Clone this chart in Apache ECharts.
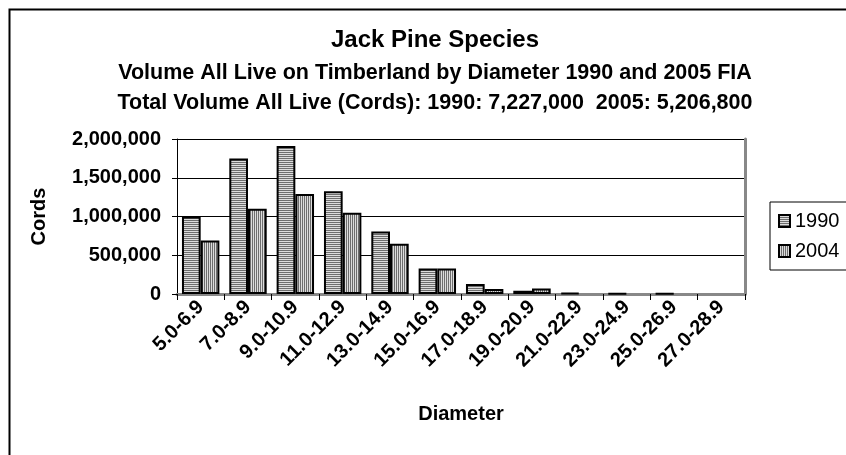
<!DOCTYPE html>
<html>
<head>
<meta charset="utf-8">
<script src="https://cdn.jsdelivr.net/npm/echarts@6/dist/echarts.min.js"></script>
<style>
html, body { margin: 0; padding: 0; background: #fff; }
#chart { width: 846px; height: 455px; }
</style>
</head>
<body>
<div id="chart"></div>
<script>
// diameter classes and volumes (cords)
var categories = ['5.0-6.9', '7.0-8.9', '9.0-10.9', '11.0-12.9', '13.0-14.9', '15.0-16.9',
	'17.0-18.9', '19.0-20.9', '21.0-22.9', '23.0-24.9', '25.0-26.9', '27.0-28.9'];
var vol1990 = [1000000, 1750000, 1910000, 1325000, 805000, 330000, 130000, 42000, 15000, 8000, 7000, null];
var vol2004 = [690000, 1100000, 1290000, 1050000, 650000, 330000, 65000, 72000, null, null, null, null];
var seriesNames = ['1990', '2004'];
var yTicks = [0, 500000, 1000000, 1500000, 2000000];

var FONT = "'Liberation Sans', Arial, sans-serif";

// striped fill like the old excel patterns
function stripes(horizontal) {
	var c = document.createElement('canvas');
	c.width = 2;
	c.height = 2;
	var ctx = c.getContext('2d');
	ctx.fillStyle = '#dcdcdc';
	ctx.fillRect(0, 0, 2, 2);
	ctx.fillStyle = '#6e6e6e';
	if (horizontal) {
		ctx.fillRect(0, 0, 2, 1);
	} else {
		ctx.fillRect(0, 0, 1, 2);
	}
	return { image: c, repeat: 'repeat' };
}

function addCommas(v) {
	return String(v).replace(/\B(?=(\d{3})+(?!\d))/g, ',');
}

var myChart = echarts.init(document.getElementById('chart'), null, { renderer: 'canvas' });

var option = {
	animation: false,
	backgroundColor: '#fff',
	textStyle: { fontFamily: FONT, color: '#000' },
	title: [{
		text: 'Jack Pine Species',
		left: 430, top: 23, textAlign: 'center',
		textStyle: { fontFamily: FONT, fontSize: 24, fontWeight: 'bold', color: '#000' }
	}, {
		text: 'Volume All Live on Timberland by Diameter 1990 and 2005 FIA',
		left: 430, top: 57, textAlign: 'center',
		textStyle: { fontFamily: FONT, fontSize: 21.5, fontWeight: 'bold', color: '#000' }
	}, {
		text: 'Total Volume All Live (Cords): 1990: 7,227,000  2005: 5,206,800',
		left: 430, top: 87, textAlign: 'center',
		textStyle: { fontFamily: FONT, fontSize: 21.5, fontWeight: 'bold', color: '#000' }
	}],
	graphic: [{
		// outer chart border
		type: 'rect', left: 7, top: 7,
		shape: { width: 900, height: 500 },
		style: { fill: null, stroke: '#000', lineWidth: 2 },
		silent: true
	}],
	legend: {
		orient: 'vertical',
		left: 770, top: 202,
		data: seriesNames,
		icon: 'rect',
		itemWidth: 11, itemHeight: 12,
		itemGap: 10,
		padding: [9, 40, 9, 8],
		borderColor: '#000', borderWidth: 1,
		backgroundColor: '#fff',
		textStyle: { fontFamily: FONT, fontSize: 20, color: '#000' }
	},
	grid: { left: 177, right: 101, top: 139, bottom: 161, containLabel: false },
	xAxis: [{
		type: 'category',
		data: categories,
		name: 'Diameter',
		nameLocation: 'middle',
		nameGap: 110,
		nameTextStyle: { fontFamily: FONT, fontSize: 20, fontWeight: 'bold', color: '#000' },
		axisLine: { lineStyle: { color: '#000', width: 1 } },
		axisTick: { show: true, interval: 0, length: 6, lineStyle: { color: '#000' } },
		axisLabel: {
			interval: 0, rotate: 45, margin: 10,
			fontFamily: FONT, fontSize: 20, fontWeight: 'bold', color: '#000'
		}
	}, {
		// grey frame on top of plot area
		type: 'category', position: 'top', data: categories,
		axisLine: { lineStyle: { color: '#888', width: 3 } },
		axisTick: { show: false }, axisLabel: { show: false }
	}],
	yAxis: [{
		type: 'value',
		min: yTicks[0], max: yTicks[yTicks.length - 1], interval: 500000,
		name: 'Cords',
		nameLocation: 'middle',
		nameGap: 128,
		nameTextStyle: { fontFamily: FONT, fontSize: 20, fontWeight: 'bold', color: '#000' },
		axisLine: { show: true, lineStyle: { color: '#000', width: 1 } },
		axisTick: { show: true, length: 5, lineStyle: { color: '#000' } },
		splitLine: { show: true, lineStyle: { color: '#000', width: 1 } },
		axisLabel: {
			margin: 16,
			fontFamily: FONT, fontSize: 20, fontWeight: 'bold', color: '#000',
			formatter: function(v) { return addCommas(v); }
		}
	}, {
		// grey frame on right of plot area
		type: 'value', position: 'right',
		min: yTicks[0], max: yTicks[yTicks.length - 1], interval: 500000,
		axisLine: { show: true, lineStyle: { color: '#888', width: 3 } },
		axisTick: { show: false }, axisLabel: { show: false }, splitLine: { show: false }
	}],
	series: [{
		name: seriesNames[0],
		type: 'bar',
		data: vol1990,
		barGap: '0%',
		barCategoryGap: '21%',
		itemStyle: { color: stripes(true), borderColor: '#000', borderWidth: 2 }
	}, {
		name: seriesNames[1],
		type: 'bar',
		data: vol2004,
		barGap: '0%',
		barCategoryGap: '21%',
		itemStyle: { color: stripes(false), borderColor: '#000', borderWidth: 2 }
	}]
};

myChart.setOption(option);
window.addEventListener('resize', function() {
	myChart.resize();
});
</script>
</body>
</html>
